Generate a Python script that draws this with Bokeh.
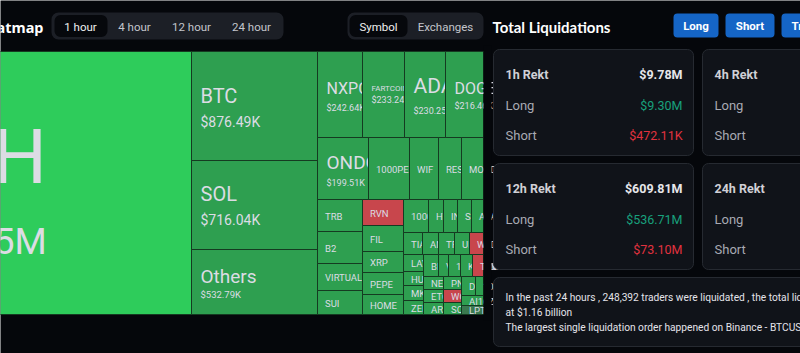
from bokeh.plotting import figure
from bokeh.models import Range1d
from bokeh.core.properties import value
from bokeh.embed import file_html
from bokeh.resources import INLINE

# ---------------- data ----------------
symbols = ["ETH", "BTC", "SOL", "Others", "NXPC", "FARTCOIN", "ADA", "DOGE",
           "ONDO", "1000PEPE", "WIF", "RESOLV", "MOODENG",
           "TRB", "B2", "VIRTUAL", "SUI", "RVN", "FIL", "XRP", "PEPE", "HOME",
           "1000SATS", "HYPE", "INJ", "SPX", "AVAX",
           "TIA", "ANIME", "TRUMP", "UNI", "WLD",
           "LAYER", "HUMA", "MKR", "ZEN",
           "BNB", "VINE", "1000BONK", "KAITO", "TAO",
           "NEAR", "PNUT", "DOT", "1000FLOKI", "ETC", "WCT", "ARB", "SQD", "AI16Z", "LPT"]
amounts_k = [4752.0, 876.49, 716.04, 532.79, 242.64, 233.24, 230.25, 216.46,
             199.51, 162.0, 115.0, 91.0, 87.0,
             90.0, 88.0, 76.0, 68.0, 68.0, 67.0, 55.0, 58.0, 52.0,
             53.0, 32.0, 30.0, 29.0, 25.0,
             27.0, 23.0, 22.0, 21.0, 20.0,
             20.0, 18.0, 19.0, 19.0,
             20.0, 13.0, 16.0, 16.0, 15.0,
             17.0, 15.0, 17.0, 10.0, 17.0, 15.0, 15.0, 14.0, 14.0, 13.0]
sides = ["top", "long", "long", "long", "long", "long", "long", "long",
         "long", "long", "long", "long", "long",
         "long", "long", "long", "long", "short", "long", "long", "long", "long",
         "long", "long", "long", "long", "long",
         "long", "long", "long", "long", "short",
         "long", "long", "long", "long",
         "long", "long", "long", "long", "short",
         "long", "long", "long", "long", "long", "short", "long", "long", "long", "mixed"]
shown_values = {"ETH", "BTC", "SOL", "Others", "NXPC", "FARTCOIN", "ADA", "DOGE", "ONDO"}

time_tabs = ["1 hour", "4 hour", "12 hour", "24 hour"]
view_tabs = ["Symbol", "Exchanges"]
side_buttons = ["Long", "Short", "Trend"]

periods = ["1h Rekt", "4h Rekt", "12h Rekt", "24h Rekt"]
period_total = ["$9.78M", "", "$609.81M", ""]
period_long = ["$9.30M", "", "$536.71M", ""]
period_short = ["$472.11K", "", "$73.10M", ""]

summary_lines = [
    "In the past 24 hours , 248,392 traders were liquidated , the total liquidation comes in",
    "at $1.16 billion",
    "The largest single liquidation order happened on Binance - BTCUSDT value $12.35M",
]

# ---------------- layout (screen px) ----------------
tile_rect = {
    "ETH": (-106, 51, 191, 314), "BTC": (191, 51, 317, 160), "SOL": (191, 160, 317, 249),
    "Others": (191, 249, 317, 314),
    "NXPC": (317, 51, 362, 137), "FARTCOIN": (362, 51, 404, 137), "ADA": (404, 51, 445, 137),
    "DOGE": (445, 51, 483, 137),
    "ONDO": (317, 137, 368, 199), "1000PEPE": (368, 137, 409, 199), "WIF": (409, 137, 438, 199),
    "RESOLV": (438, 137, 461, 199), "MOODENG": (461, 137, 483, 199),
    "TRB": (317, 199, 362, 231), "B2": (317, 231, 362, 263), "VIRTUAL": (317, 263, 362, 290),
    "SUI": (317, 290, 362, 314),
    "RVN": (362, 199, 403, 225), "FIL": (362, 225, 403, 251), "XRP": (362, 251, 403, 272),
    "PEPE": (362, 272, 403, 294), "HOME": (362, 294, 403, 314),
    "1000SATS": (403, 199, 428, 232), "HYPE": (428, 199, 443, 232), "INJ": (443, 199, 457, 232),
    "SPX": (457, 199, 471, 232), "AVAX": (471, 199, 483, 232),
    "TIA": (403, 232, 422, 254), "ANIME": (422, 232, 438, 254), "TRUMP": (438, 232, 454, 254),
    "UNI": (454, 232, 469, 254), "WLD": (469, 232, 483, 254),
    "LAYER": (403, 254, 423, 271), "HUMA": (403, 271, 423, 285), "MKR": (403, 285, 423, 300),
    "ZEN": (403, 300, 423, 314),
    "BNB": (423, 254, 438, 276), "VINE": (438, 254, 448, 276), "1000BONK": (448, 254, 460, 276),
    "KAITO": (460, 254, 472, 276), "TAO": (472, 254, 483, 276),
    "NEAR": (423, 276, 443, 289), "PNUT": (443, 276, 461, 289), "DOT": (461, 276, 475, 295),
    "1000FLOKI": (475, 276, 483, 295), "ETC": (423, 289, 443, 302), "WCT": (443, 289, 461, 302),
    "ARB": (423, 302, 443, 314), "SQD": (443, 302, 461, 314), "AI16Z": (461, 295, 483, 305),
    "LPT": (461, 305, 483, 314),
}
# name size, value size, name dy, value dy (relative to tile centre), value dx
tile_style = {
    "ETH": (76, 37, -26, 58, 18), "BTC": (20, 14, -10.5, 15.5, 0), "SOL": (20, 14, -11, 14.5, 0),
    "Others": (19, 9.5, -6, 12.5, 0), "NXPC": (16, 9, -6.5, 13, 0), "FARTCOIN": (8, 9, -6, 5.5, 0),
    "ADA": (21, 9, -8.5, 16, 0), "DOGE": (16, 9, -6.5, 11, 0), "ONDO": (19, 9, -6.5, 14, 0),
}
side_color = {"top": "#2ecc5b", "long": "#2e9f50", "short": "#c8464c", "mixed": "#3a7a50"}

BG = "#05070b"
CARD = "#101319"
CARD_LINE = "#262a31"
TILE_TXT = "#dcdce4"


def fmt(v):
    return f"${v / 1000:.2f}M" if v >= 1000 else f"${v:.2f}K"


p = figure(width=800, height=353, x_range=Range1d(0, 800), y_range=Range1d(353, 0),
           output_backend="svg", toolbar_location=None, min_border=0,
           background_fill_color=BG, border_fill_color=BG, outline_line_color=None)
p.axis.visible = False
p.grid.visible = False


def txt(x, y, s, size, color, font="Roboto", style="normal", align="left"):
    p.text(x=[x], y=[y], text=[s], text_font=value(font), text_font_size=f"{size}px",
           text_color=color, text_font_style=style, text_align=align, text_baseline="middle")


# ---------------- header left ----------------
txt(43, 26, "Liquidation Heatmap", 14.5, "#ffffff", font="Noto Sans", style="bold", align="right")
p.quad(left=[51], right=[283], top=[12], bottom=[39], fill_color="#1c1f26", line_color=None,
       border_radius=7)
p.quad(left=[54], right=[107], top=[14.5], bottom=[36.5], fill_color="#06080c", line_color=None,
       border_radius=6)
tab_cx = [80, 134, 191, 251]
for i, t in enumerate(time_tabs):
    txt(tab_cx[i], 26, t, 11.5, "#f0f0f0" if i == 0 else "#c4c6cc", align="center")

p.quad(left=[347], right=[483], top=[12], bottom=[39], fill_color="#1c1f26", line_color=None,
       border_radius=7)
p.quad(left=[349], right=[407], top=[14.5], bottom=[36.5], fill_color="#06080c", line_color=None,
       border_radius=6)
view_cx = [378, 445]
for i, t in enumerate(view_tabs):
    txt(view_cx[i], 26, t, 11.5, "#f0f0f0" if i == 0 else "#c4c6cc", align="center")

# ---------------- treemap ----------------
order = sorted(range(len(symbols)), key=lambda i: (tile_rect[symbols[i]][0], tile_rect[symbols[i]][1]))
for i in order:
    s = symbols[i]
    x0, y0, x1, y1 = tile_rect[s]
    p.quad(left=[x0], right=[x1], top=[y0], bottom=[y1], fill_color=side_color[sides[i]],
           line_color="#153a21", line_width=1)
    cy = (y0 + y1) / 2
    pad = 9 if s in shown_values else 7.5
    if s in tile_style:
        ns, vs, dn, dv, vdx = tile_style[s]
        txt(x0 + pad, cy + dn, s, ns, TILE_TXT)
        txt(x0 + pad + vdx, cy + dv, fmt(amounts_k[i]), vs, TILE_TXT)
    else:
        txt(x0 + pad, cy + 0.5, s, 9.5, TILE_TXT)

# mask overflow right of the treemap
p.quad(left=[483], right=[491], top=[45], bottom=[320], fill_color=BG, line_color=None)

# ---------------- right panel ----------------
txt(492, 26, "Total Liquidations", 15, "#ffffff", font="Lato", style="bold")
btn_x = [(673, 718), (725, 774), (781, 840)]
for i, b in enumerate(side_buttons):
    l, r = btn_x[i]
    p.quad(left=[l], right=[r], top=[13], bottom=[37], fill_color="#1565c6", line_color=None,
           border_radius=4)
    if i < 2:
        txt((l + r) / 2, 25.5, b, 11.5, "#ffffff", style="bold", align="center")
    else:
        txt(l + 10, 25.5, b, 11.5, "#ffffff", style="bold")

for i, per in enumerate(periods):
    cx0 = 493 + (i % 2) * 209
    cy0 = 49 + (i // 2) * 114
    p.quad(left=[cx0], right=[cx0 + 200], top=[cy0], bottom=[cy0 + 106], fill_color=CARD,
           line_color=CARD_LINE, line_width=1, border_radius=6)
    txt(cx0 + 12, cy0 + 25, per, 12.5, "#d0d0d6", style="bold")
    txt(cx0 + 12, cy0 + 56, "Long", 13, "#a8aab2")
    txt(cx0 + 12, cy0 + 86, "Short", 13, "#a8aab2")
    if period_total[i]:
        txt(cx0 + 189, cy0 + 25, period_total[i], 12.5, "#e6e6ea", style="bold", align="right")
        txt(cx0 + 189, cy0 + 56, period_long[i], 12.5, "#18a07c", align="right")
        txt(cx0 + 189, cy0 + 86, period_short[i], 12.5, "#e0323f", align="right")

p.quad(left=[493], right=[900], top=[277], bottom=[346], fill_color=CARD, line_color=CARD_LINE,
       line_width=1, border_radius=6)
for k, line in enumerate(summary_lines):
    txt(505, 297 + 15 * k, line, 10.2, "#e4e4ea", font="Roboto")

open("out.html", "w").write(file_html(p, INLINE))
